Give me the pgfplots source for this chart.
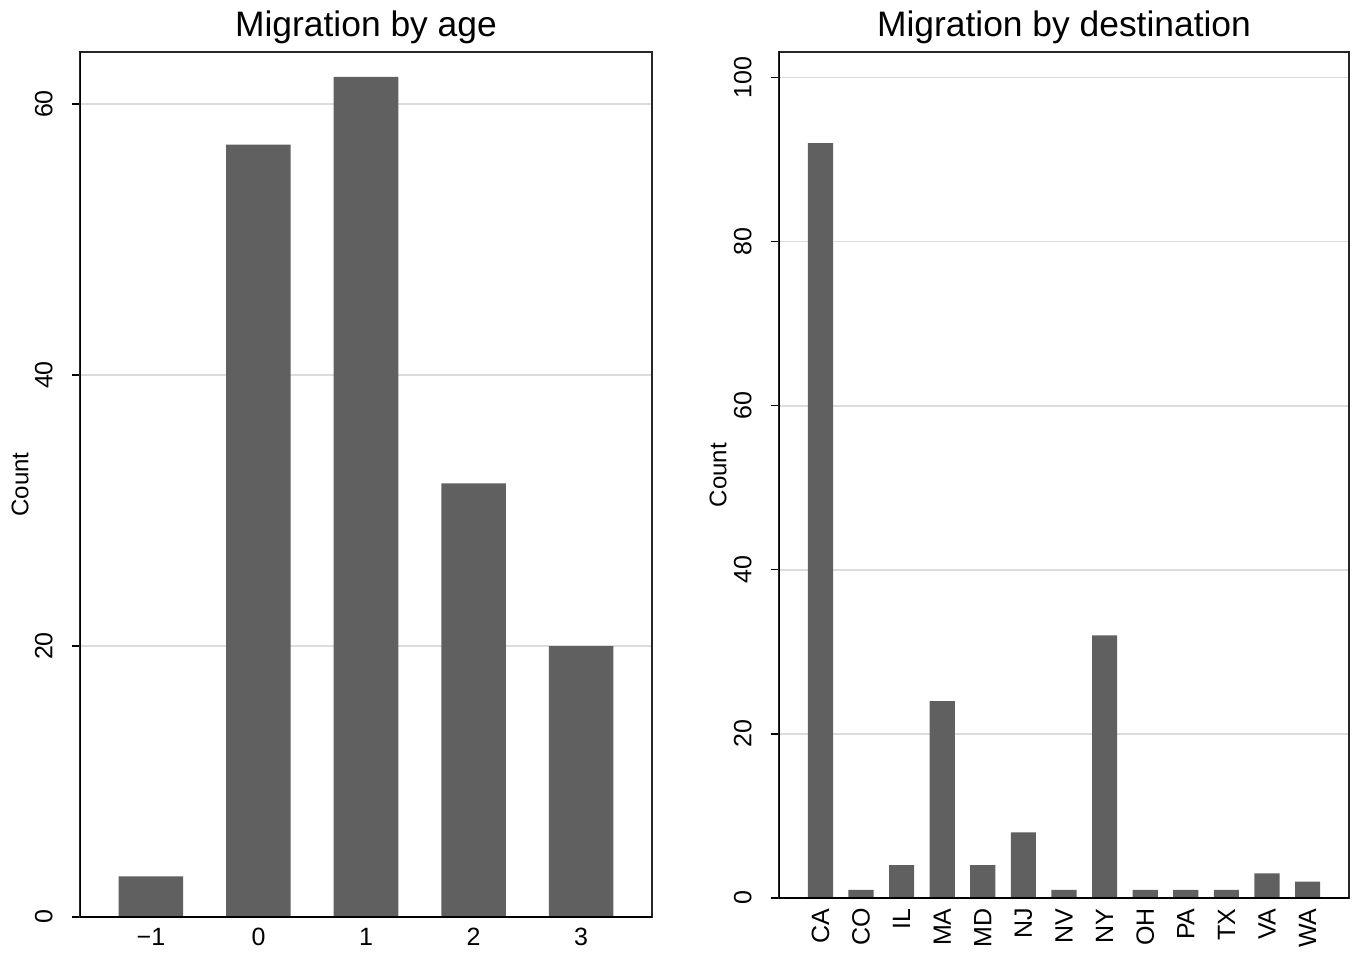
\documentclass[border=0pt]{standalone}
\usepackage{pgfplots}
\pgfplotsset{compat=1.18}
\usepackage{fontspec}
\setmainfont{Liberation Sans}
\definecolor{barc}{RGB}{96,96,96}
\definecolor{gridc}{RGB}{220,220,220}
\pgfplotsset{
  stata/.style={
    scale only axis,
    anchor=south west,
    ymin=0,
    axis line style={draw=black!85, line width=0.6pt},
    ymajorgrids,
    grid style={gridc, line width=0.9pt},
    tick align=outside,
    ytick pos=left, xtick pos=bottom,
    major tick length=4pt,
    xtick style={draw=none},
    ytick style={black, line width=0.7pt},
    /pgf/number format/assume math mode=true,
    tick label style={font=\fontsize{12.5}{14}\selectfont},
    yticklabel style={rotate=90, anchor=south, inner sep=0pt, yshift=9.5pt},
    title style={font=\fontsize{17.7}{20}\selectfont, at={(0.5,1)}, anchor=base, yshift=1.5pt},
    ylabel style={font=\fontsize{12}{14}\selectfont, at={(axis description cs:0,0.5)}, anchor=center},
    ylabel={Count},
  }
}
\begin{document}
\begin{tikzpicture}
\path[use as bounding box] (0,0) rectangle (677.5pt,477.5pt);
\begin{axis}[stata,
  at={(40pt,19pt)}, width=286pt, height=432.5pt,
  xmin=-1.66, xmax=3.66, ymax=63.84,
  ytick={0,20,40,60},
  xtick={-1,0,1,2,3},
  xticklabels={−1,0,1,2,3},
  xticklabel style={inner sep=0pt, yshift=-1.5pt},
  ylabel style={yshift=30pt},
  title={Migration by age},
]
\addplot[ybar, bar width=0.6, fill=barc, draw=none] coordinates {
  (-1,3) (0,57) (1,62) (2,32) (3,20)
};
\draw[black, line width=1pt] (rel axis cs:0,1) -- (rel axis cs:0,0) -- (rel axis cs:1,0);
\end{axis}
\begin{axis}[stata,
  at={(389.5pt,28.5pt)}, width=285pt, height=423pt,
  xmin=-1.02, xmax=13.02, ymax=103.1,
  ytick={0,20,40,60,80,100},
  xtick={0,1,2,3,4,5,6,7,8,9,10,11,12},
  xticklabels={CA,CO,IL,MA,MD,NJ,NV,NY,OH,PA,TX,VA,WA},
  xticklabel style={rotate=90, anchor=east, inner sep=0pt, xshift=-1pt},
  ylabel style={yshift=30.5pt},
  title={Migration by destination},
]
\addplot[ybar, bar width=0.62, fill=barc, draw=none] coordinates {
  (0,92) (1,1) (2,4) (3,24) (4,4) (5,8) (6,1) (7,32) (8,1) (9,1) (10,1) (11,3) (12,2)
};
\draw[black, line width=1pt] (rel axis cs:0,1) -- (rel axis cs:0,0) -- (rel axis cs:1,0);
\end{axis}
\end{tikzpicture}
\end{document}
